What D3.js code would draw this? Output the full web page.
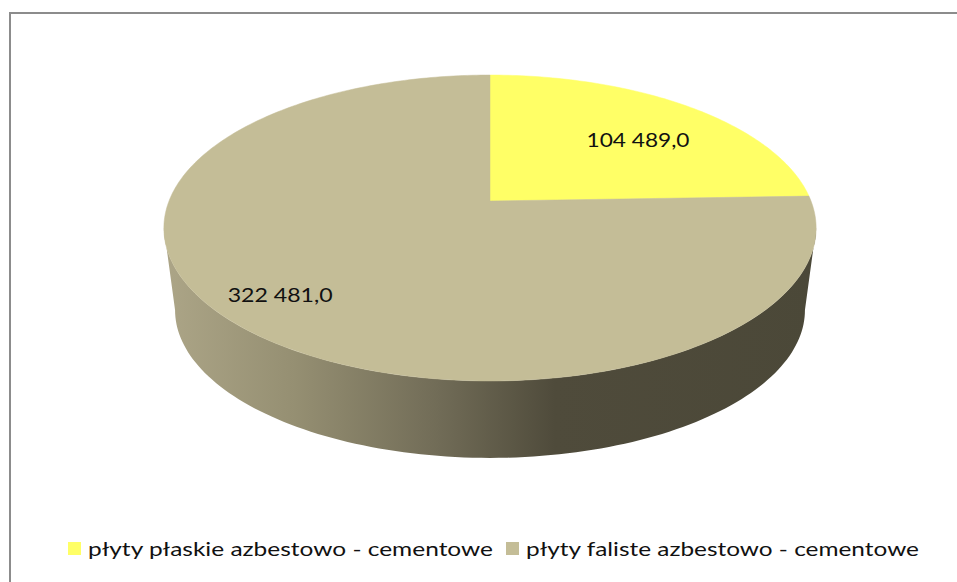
<!DOCTYPE html>
<html><head><meta charset="utf-8">
<script src="https://cdn.jsdelivr.net/npm/d3@7"></script>
<style>body{margin:0;background:#fff}svg{display:block}</style>
</head><body>
<script>
// ---- data ----
const categories = ["płyty płaskie azbestowo - cementowe", "płyty faliste azbestowo - cementowe"];
const values = [104489.0, 322481.0];
const valueLabels = ["104 489,0", "322 481,0"];
const colors = ["#ffff66", "#c4bd97"];

// ---- layout ----
const W = 957, H = 582;
const svg = d3.select("body").append("svg").attr("width", W).attr("height", H);

svg.append("rect").attr("x", 10).attr("y", 13).attr("width", 980).attr("height", 620)
  .attr("fill", "#fff").attr("stroke", "#8c8c8c").attr("stroke-width", 2);

const pie = d3.pie().sort(null).value(d => d).startAngle(0).endAngle(2 * Math.PI);
const arcs = pie(values);

// perspective projection of a disc (theta clockwise from far point)
const k = 0.1765;
const topDisc = {cx: 490, cy: 201, A: 321, B: 148.2};
const botDisc = {cx: 490, cy: 284, A: 310, B: 143.2};
function proj(disc, theta, r) {
  const u = r * Math.sin(theta), v = r * Math.cos(theta), den = 1 + k * v;
  return [disc.cx + disc.A * u / den, disc.cy - disc.B * v / den];
}
function arcPoints(disc, a0, a1, n) {
  const pts = [];
  const s = d3.scaleLinear().domain([0, n]).range([a0, a1]);
  for (let i = 0; i <= n; i++) pts.push(proj(disc, s(i), 1));
  return pts;
}
const line = d3.line();

// gradient for side wall
const defs = svg.append("defs");
const grad = defs.append("linearGradient").attr("id", "side")
  .attr("gradientUnits", "userSpaceOnUse").attr("x1", 165).attr("x2", 815).attr("y1", 0).attr("y2", 0);
[[0, "#aca587"], [0.2, "#958f72"], [0.42, "#716c57"], [0.6, "#4f4b3b"], [1, "#4b4838"]]
  .forEach(([o, c]) => grad.append("stop").attr("offset", o).attr("stop-color", c));

// side wall (front half)
const thR = Math.acos(-k), thL = 2 * Math.PI - thR;
const sidePts = arcPoints(topDisc, thR, thL, 120).concat(arcPoints(botDisc, thL, thR, 120));
svg.append("path").attr("d", line(sidePts) + "Z").attr("fill", "url(#side)");

// top face slices
arcs.forEach((a, i) => {
  const n = Math.max(4, Math.ceil((a.endAngle - a.startAngle) * 60));
  const pts = [[topDisc.cx, topDisc.cy]].concat(arcPoints(topDisc, a.startAngle, a.endAngle, n));
  svg.append("path").attr("d", line(pts) + "Z").attr("fill", colors[i])
    .attr("stroke", colors[i]).attr("stroke-width", 0.5);
});

// data labels
const labelR = [0.65, 0.84];
const labelNudge = [[14, 3], [0, -6]];
const labelLen = [103, 105];
arcs.forEach((a, i) => {
  const mid = (a.startAngle + a.endAngle) / 2;
  const p = proj(topDisc, mid, labelR[i]);
  svg.append("text").attr("x", p[0] + labelNudge[i][0]).attr("y", p[1] + labelNudge[i][1]).attr("dy", "0.36em")
    .attr("text-anchor", "middle").attr("font-family", "Lato, 'Open Sans', sans-serif")
    .attr("font-size", 20).attr("fill", "#111")
    .attr("textLength", labelLen[i]).attr("lengthAdjust", "spacingAndGlyphs")
    .text(valueLabels[i]);
});

// legend
const legX = [68, 506], legLen = [405, 393];
categories.forEach((c, i) => {
  svg.append("rect").attr("x", legX[i]).attr("y", 542).attr("width", 13).attr("height", 13).attr("fill", colors[i]);
  svg.append("text").attr("x", legX[i] + 20).attr("y", 556)
    .attr("font-family", "Lato, 'Open Sans', sans-serif").attr("font-size", 20).attr("fill", "#111")
    .attr("textLength", legLen[i]).attr("lengthAdjust", "spacingAndGlyphs")
    .text(c);
});
</script>
</body></html>
